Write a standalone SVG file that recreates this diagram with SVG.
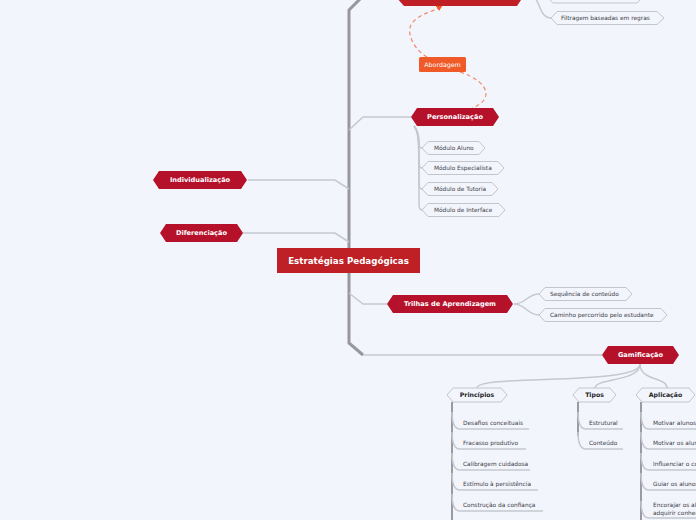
<svg xmlns="http://www.w3.org/2000/svg" width="696" height="520" viewBox="0 0 696 520">
<defs>
<style>
.bg{fill:#f3f5fd}
.main{fill:#b5112b}
.root{fill:#be2026}
.sub{fill:#f3f5fd;stroke:#c3c4cc;stroke-width:1}
.tw{font-family:"DejaVu Sans",Verdana,sans-serif;fill:#ffffff;font-weight:bold;text-anchor:middle}
.tm{font-family:"DejaVu Sans",Verdana,sans-serif;font-size:6.3px}
.ts{font-family:"DejaVu Sans",Verdana,sans-serif;font-size:5.85px;fill:#3a3a44}
.tb{font-family:"DejaVu Sans",Verdana,sans-serif;font-size:6.2px;font-weight:bold;fill:#1e1e26;text-anchor:middle}
.c{fill:none;stroke:#c6c7cf;stroke-width:1.5}
.trunk{fill:none;stroke:#97979d;stroke-width:3}
.v{fill:none;stroke:#9a9aa2;stroke-width:2}
.d{fill:none;stroke:#f08a6c;stroke-width:1.2;stroke-dasharray:4 3}
</style>
<marker id="ah" viewBox="0 0 6 6" refX="3" refY="3" markerWidth="5" markerHeight="5" orient="auto">
<path d="M0,0 L6,3 L0,6 z" fill="#f15a24"/>
</marker>
</defs>
<rect class="bg" x="0" y="0" width="696" height="520"/>

<g id="connectors">
<path class="trunk" d="M361 -2 L349 10 L349 343 L363 355"/>
<path class="c" d="M363 355 L602 355"/>
<path class="c" d="M349 130 L363 117 L411 117"/>
<path class="c" d="M349 189 L335 180 L248 180"/>
<path class="c" d="M349 242 L335 233 L243 233"/>
<path class="c" d="M349 293 L363 304 L387 304"/>
<path class="c" d="M523 -3 L531 -3 C540 -3 537 -3 547 -3"/>
<path class="c" d="M523 -3 L531 -3 C541 -3 538 18 551 18"/>
<path class="c" d="M414 126 C419 132 419 138 419 144 Q419 148 422 148"/>
<path class="c" d="M414 126 C419 132 419 138 419 162 Q419 168 422 168"/>
<path class="c" d="M414 126 C419 132 419 138 419 183 Q419 189 422 189"/>
<path class="c" d="M414 126 C419 132 419 138 419 204 Q419 210 422 210"/>
<path class="c" d="M514 304 C526 304 527 294 539 294"/>
<path class="c" d="M514 304 C526 304 527 315 539 315"/>
<path class="c" d="M640 364 C640 386 477 374 477 388"/>
<path class="c" d="M640 364 C640 382 595 378 595 388"/>
<path class="c" d="M640 364 C640 381 667 377 667 388"/>
<path class="v" d="M452 402 L452 520"/>
<path class="c" d="M452 412 Q452 429 460 429 H529"/>
<path class="c" d="M452 432 Q452 449 460 449 H526"/>
<path class="c" d="M452 453 Q452 470 460 470 H530"/>
<path class="c" d="M452 473 Q452 490 460 490 H538"/>
<path class="c" d="M452 494 Q452 511 460 511 H543"/>
<path class="v" d="M578 402 L578 436"/>
<path class="c" d="M578 412 Q578 429 586 429 H623"/>
<path class="c" d="M578 432 Q578 449 586 449 H623"/>
<path class="v" d="M641 402 L641 520"/>
<path class="c" d="M641 412 Q641 429 649 429 H700"/>
<path class="c" d="M641 432 Q641 449 649 449 H700"/>
<path class="c" d="M641 453 Q641 470 649 470 H700"/>
<path class="c" d="M641 473 Q641 490 649 490 H700"/>
<path class="c" d="M641 501 Q641 518 649 518 H700"/>
<path class="d" d="M427 57 C412 48 405 30 413 22 C420 14 432 12 440 7" marker-end="url(#ah)"/>
<path class="d" d="M460 72 C490 82 494 100 472 108"/>
</g>

<g id="top-node">
<polygon class="root" points="396,-3 404,-12 517,-12 523,-3 517,6 404,6"/>
</g>
<g id="top-child-1">
<polygon class="sub" points="547,-3 553,-9 637,-9 643,-3 637,3 553,3"/>
</g>
<g id="filtragem">
<polygon class="sub" points="551,18 557,11.5 657,11.5 664,18 657,24.5 557,24.5"/>
<text class="ts" x="561" y="20">Filtragem baseadas em regras</text>
</g>

<g id="abordagem">
<rect x="419" y="57" width="47" height="15" rx="1.5" fill="#f05a28"/>
<text class="tm" x="442.5" y="67" fill="#ffffff" text-anchor="middle">Abordagem</text>
</g>

<g id="personalizacao">
<polygon class="main" points="411,117 417,108 493,108 499,117 493,126 417,126"/>
<text class="tw" x="455" y="119.3" font-size="6.6">Personalização</text>
</g>
<g id="modulo-aluno">
<polygon class="sub" points="422,148 428,141.5 479,141.5 485,148 479,154.5 428,154.5"/>
<text class="ts" x="434" y="150">Módulo Aluno</text>
</g>
<g id="modulo-especialista">
<polygon class="sub" points="422,168 428,161.5 498,161.5 504,168 498,174.5 428,174.5"/>
<text class="ts" x="434" y="170">Módulo Especialista</text>
</g>
<g id="modulo-tutoria">
<polygon class="sub" points="422,189 428,182.5 492,182.5 498,189 492,195.5 428,195.5"/>
<text class="ts" x="434" y="191">Módulo de Tutoria</text>
</g>
<g id="modulo-interface">
<polygon class="sub" points="422,210 428,203.5 499,203.5 505,210 499,216.5 428,216.5"/>
<text class="ts" x="434" y="212">Módulo de Interface</text>
</g>

<g id="individualizacao">
<polygon class="main" points="153,180 159,171 241,171 247,180 241,189 159,189"/>
<text class="tw" x="200" y="182.3" font-size="6.6">Individualização</text>
</g>
<g id="diferenciacao">
<polygon class="main" points="160,233 166,224 237,224 243,233 237,242 166,242"/>
<text class="tw" x="201.5" y="235.3" font-size="6.6">Diferenciação</text>
</g>

<g id="root">
<rect class="root" x="277" y="248" width="143" height="25"/>
<text class="tw" x="348.5" y="264" font-size="8.7">Estratégias Pedagógicas</text>
</g>

<g id="trilhas">
<polygon class="main" points="387,304 393,295 507,295 513,304 507,313 393,313"/>
<text class="tw" x="450" y="306.3" font-size="6.6">Trilhas de Aprendizagem</text>
</g>
<g id="sequencia">
<polygon class="sub" points="539,294 545,287.5 626,287.5 632,294 626,300.5 545,300.5"/>
<text class="ts" x="550" y="296">Sequência de conteúdo</text>
</g>
<g id="caminho">
<polygon class="sub" points="539,315 545,308.5 661,308.5 667,315 661,321.5 545,321.5"/>
<text class="ts" x="550" y="317">Caminho percorrido pelo estudante</text>
</g>

<g id="gamificacao">
<polygon class="main" points="602,355 608,346 673,346 679,355 673,364 608,364"/>
<text class="tw" x="640.5" y="357.3" font-size="6.6">Gamificação</text>
</g>
<g id="principios">
<polygon class="sub" points="447,395 453,388 501,388 507,395 501,402 453,402"/>
<text class="tb" x="477" y="397.2">Princípios</text>
</g>
<g id="tipos">
<polygon class="sub" points="573,395 579,388 610,388 616,395 610,402 579,402"/>
<text class="tb" x="594.5" y="397.2">Tipos</text>
</g>
<g id="aplicacao">
<polygon class="sub" points="636,395 642,388 689,388 695,395 689,402 642,402"/>
<text class="tb" x="665.5" y="397.2">Aplicação</text>
</g>

<g id="desafios"><text class="ts" x="463" y="425">Desafios conceituais</text></g>
<g id="fracasso"><text class="ts" x="463" y="445">Fracasso produtivo</text></g>
<g id="calibragem"><text class="ts" x="463" y="466">Calibragem cuidadosa</text></g>
<g id="estimulo"><text class="ts" x="463" y="486">Estímulo à persistência</text></g>
<g id="construcao"><text class="ts" x="463" y="507">Construção da confiança</text></g>

<g id="estrutural"><text class="ts" x="589" y="425">Estrutural</text></g>
<g id="conteudo"><text class="ts" x="589" y="445">Conteúdo</text></g>

<g id="motivar1"><text class="ts" x="653" y="425">Motivar alunos</text></g>
<g id="motivar2"><text class="ts" x="653" y="445">Motivar os alunos</text></g>
<g id="influenciar"><text class="ts" x="653" y="466">Influenciar o comportamento</text></g>
<g id="guiar"><text class="ts" x="653" y="486">Guiar os alunos</text></g>
<g id="encorajar"><text class="ts" x="653" y="507">Encorajar os alunos</text><text class="ts" x="653" y="514.5">adquirir conhecimento</text></g>
</svg>
